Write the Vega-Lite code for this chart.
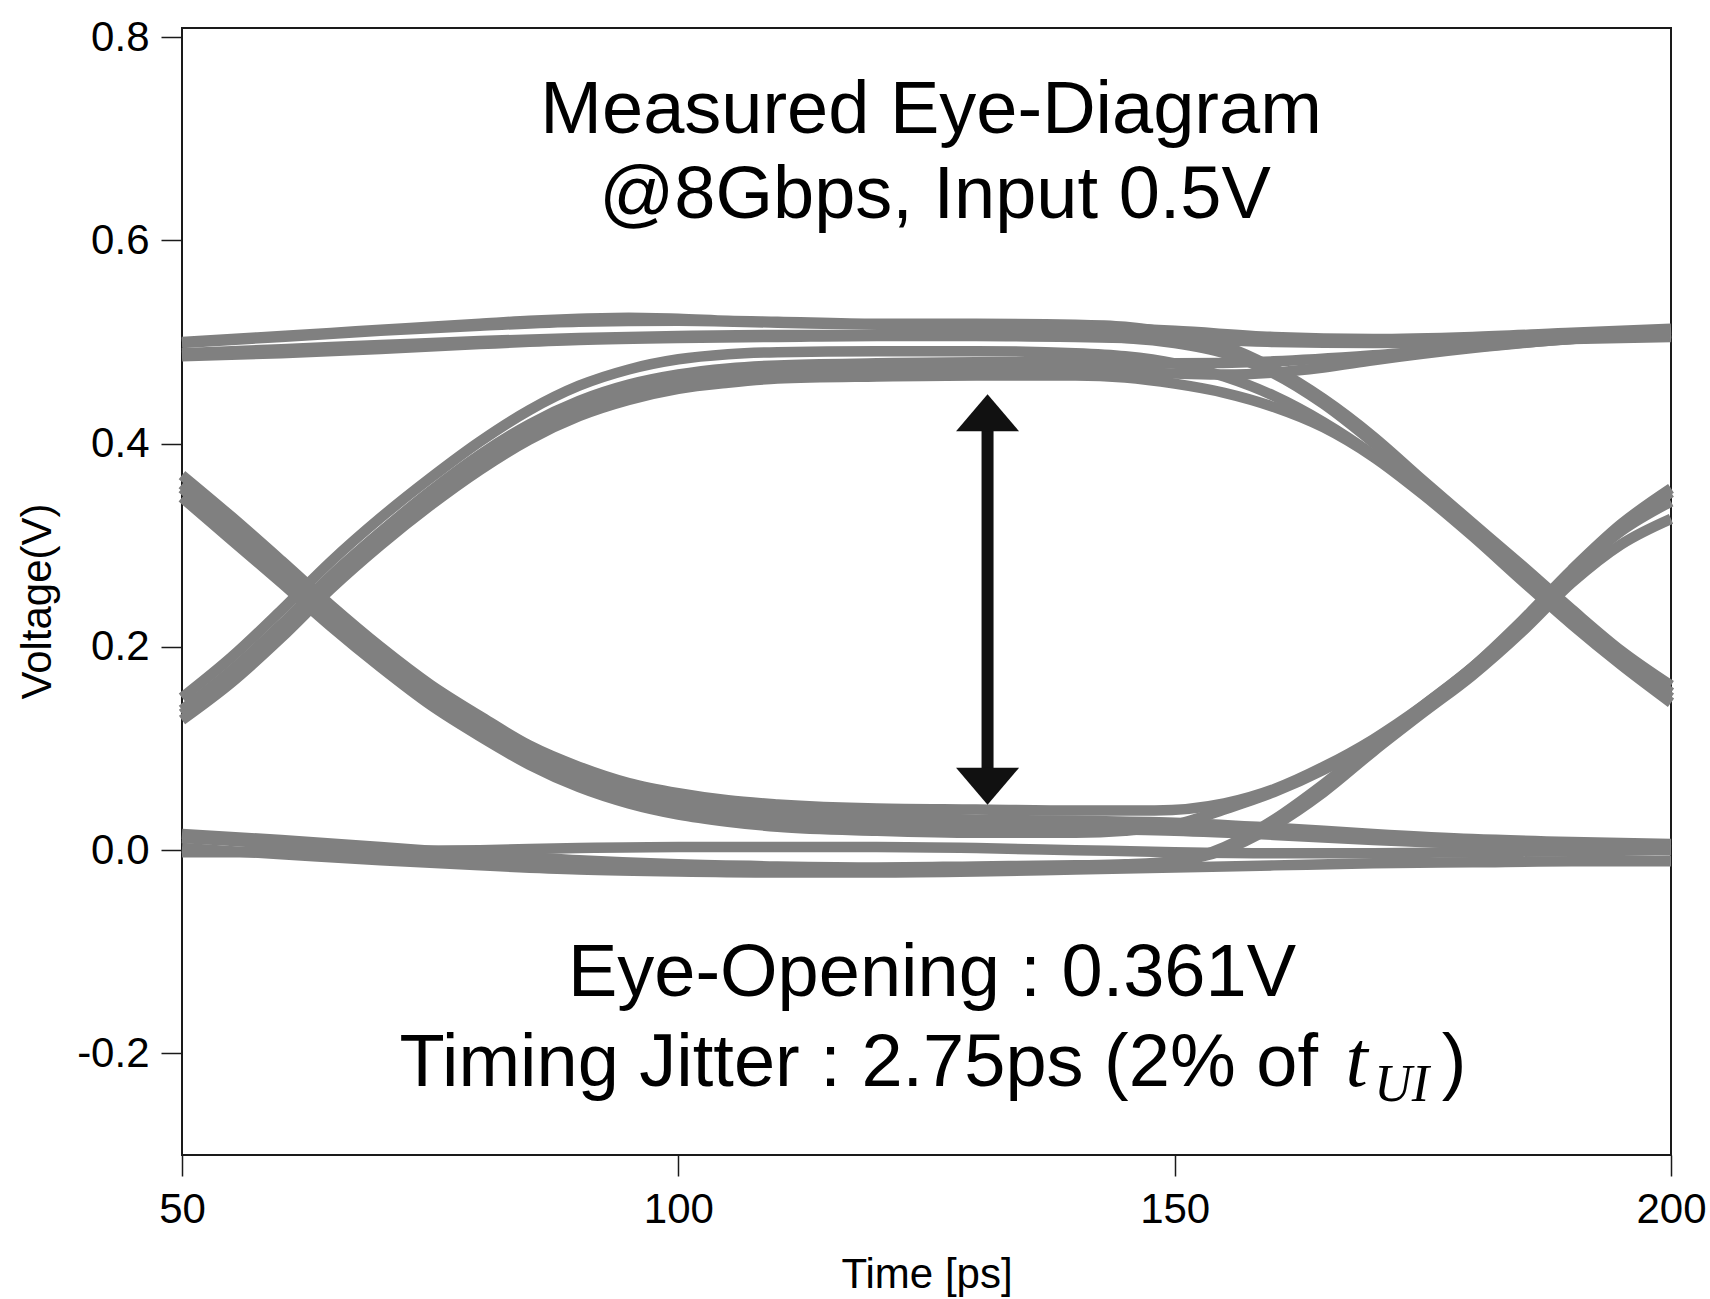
{
  "$schema": "https://vega.github.io/schema/vega-lite/v6.json",
  "width": 1489,
  "height": 1127,
  "autosize": {"type": "none"},
  "padding": {"left": 182, "top": 28, "right": 39, "bottom": 144},
  "background": "white",
  "config": {
    "view": {"stroke": "#1a1a1a", "strokeWidth": 2},
    "axis": {
      "grid": false, "domain": false,
      "labelFont": "Liberation Sans", "titleFont": "Liberation Sans",
      "labelColor": "#000", "titleColor": "#000",
      "tickColor": "#1a1a1a", "tickWidth": 1.5, "tickSize": 21,
      "labelFontSize": 42, "titleFontSize": 42, "titleFontWeight": "normal"
    }
  },
  "datasets": {
    "traces": [
      {"s":"H1","t":50,"v":0.500},{"s":"H1","t":55,"v":0.503},{"s":"H1","t":60,"v":0.506},{"s":"H1","t":65,"v":0.509},{"s":"H1","t":70,"v":0.512},{"s":"H1","t":75,"v":0.515},{"s":"H1","t":80,"v":0.518},{"s":"H1","t":85,"v":0.521},{"s":"H1","t":90,"v":0.523},{"s":"H1","t":95,"v":0.524},{"s":"H1","t":100,"v":0.523},{"s":"H1","t":105,"v":0.521},{"s":"H1","t":110,"v":0.520},{"s":"H1","t":120,"v":0.518},{"s":"H1","t":130,"v":0.518},{"s":"H1","t":140,"v":0.517},{"s":"H1","t":145,"v":0.515},{"s":"H1","t":150,"v":0.508},{"s":"H1","t":155,"v":0.496},{"s":"H1","t":160,"v":0.474},{"s":"H1","t":165,"v":0.444},{"s":"H1","t":170,"v":0.407},{"s":"H1","t":175,"v":0.364},{"s":"H1","t":180,"v":0.322},{"s":"H1","t":185,"v":0.280},{"s":"H1","t":190,"v":0.237},{"s":"H1","t":195,"v":0.196},{"s":"H1","t":200,"v":0.162},
      {"s":"H2","t":50,"v":0.489},{"s":"H2","t":60,"v":0.493},{"s":"H2","t":70,"v":0.497},{"s":"H2","t":80,"v":0.501},{"s":"H2","t":90,"v":0.504},{"s":"H2","t":100,"v":0.506},{"s":"H2","t":110,"v":0.507},{"s":"H2","t":120,"v":0.507},{"s":"H2","t":130,"v":0.507},{"s":"H2","t":140,"v":0.506},{"s":"H2","t":145,"v":0.504},{"s":"H2","t":150,"v":0.499},{"s":"H2","t":155,"v":0.489},{"s":"H2","t":160,"v":0.469},{"s":"H2","t":165,"v":0.439},{"s":"H2","t":170,"v":0.401},{"s":"H2","t":175,"v":0.359},{"s":"H2","t":180,"v":0.317},{"s":"H2","t":185,"v":0.275},{"s":"H2","t":190,"v":0.232},{"s":"H2","t":195,"v":0.192},{"s":"H2","t":200,"v":0.155},
      {"s":"H3","t":50,"v":0.486},{"s":"H3","t":60,"v":0.489},{"s":"H3","t":70,"v":0.493},{"s":"H3","t":80,"v":0.498},{"s":"H3","t":90,"v":0.502},{"s":"H3","t":100,"v":0.504},{"s":"H3","t":110,"v":0.505},{"s":"H3","t":120,"v":0.506},{"s":"H3","t":130,"v":0.506},{"s":"H3","t":140,"v":0.505},{"s":"H3","t":150,"v":0.503},{"s":"H3","t":160,"v":0.500},{"s":"H3","t":170,"v":0.499},{"s":"H3","t":180,"v":0.500},{"s":"H3","t":190,"v":0.503},{"s":"H3","t":200,"v":0.505},
      {"s":"H4","t":50,"v":0.499},{"s":"H4","t":60,"v":0.505},{"s":"H4","t":70,"v":0.511},{"s":"H4","t":80,"v":0.516},{"s":"H4","t":90,"v":0.520},{"s":"H4","t":100,"v":0.521},{"s":"H4","t":110,"v":0.519},{"s":"H4","t":120,"v":0.517},{"s":"H4","t":130,"v":0.516},{"s":"H4","t":140,"v":0.515},{"s":"H4","t":150,"v":0.511},{"s":"H4","t":160,"v":0.505},{"s":"H4","t":170,"v":0.503},{"s":"H4","t":180,"v":0.505},{"s":"H4","t":190,"v":0.509},{"s":"H4","t":200,"v":0.513},
      {"s":"R1","t":50,"v":0.150},{"s":"R1","t":55,"v":0.190},{"s":"R1","t":60,"v":0.236},{"s":"R1","t":65,"v":0.284},{"s":"R1","t":70,"v":0.327},{"s":"R1","t":75,"v":0.366},{"s":"R1","t":80,"v":0.402},{"s":"R1","t":85,"v":0.433},{"s":"R1","t":90,"v":0.457},{"s":"R1","t":95,"v":0.473},{"s":"R1","t":100,"v":0.483},{"s":"R1","t":105,"v":0.488},{"s":"R1","t":110,"v":0.490},{"s":"R1","t":120,"v":0.491},{"s":"R1","t":130,"v":0.491},{"s":"R1","t":140,"v":0.489},{"s":"R1","t":145,"v":0.486},{"s":"R1","t":150,"v":0.479},{"s":"R1","t":155,"v":0.466},{"s":"R1","t":160,"v":0.447},{"s":"R1","t":165,"v":0.421},{"s":"R1","t":170,"v":0.389},{"s":"R1","t":175,"v":0.352},{"s":"R1","t":180,"v":0.311},{"s":"R1","t":185,"v":0.268},{"s":"R1","t":190,"v":0.226},{"s":"R1","t":195,"v":0.186},{"s":"R1","t":200,"v":0.150},
      {"s":"R2","t":50,"v":0.138},{"s":"R2","t":55,"v":0.177},{"s":"R2","t":60,"v":0.222},{"s":"R2","t":65,"v":0.270},{"s":"R2","t":70,"v":0.313},{"s":"R2","t":75,"v":0.353},{"s":"R2","t":80,"v":0.389},{"s":"R2","t":85,"v":0.419},{"s":"R2","t":90,"v":0.442},{"s":"R2","t":95,"v":0.458},{"s":"R2","t":100,"v":0.468},{"s":"R2","t":105,"v":0.474},{"s":"R2","t":110,"v":0.477},{"s":"R2","t":120,"v":0.479},{"s":"R2","t":130,"v":0.480},{"s":"R2","t":140,"v":0.480},{"s":"R2","t":150,"v":0.479},{"s":"R2","t":160,"v":0.481},{"s":"R2","t":170,"v":0.487},{"s":"R2","t":180,"v":0.495},{"s":"R2","t":190,"v":0.503},{"s":"R2","t":200,"v":0.509},
      {"s":"R3","t":50,"v":0.128},{"s":"R3","t":55,"v":0.165},{"s":"R3","t":60,"v":0.209},{"s":"R3","t":65,"v":0.257},{"s":"R3","t":70,"v":0.300},{"s":"R3","t":75,"v":0.339},{"s":"R3","t":80,"v":0.374},{"s":"R3","t":85,"v":0.404},{"s":"R3","t":90,"v":0.427},{"s":"R3","t":95,"v":0.443},{"s":"R3","t":100,"v":0.454},{"s":"R3","t":105,"v":0.460},{"s":"R3","t":110,"v":0.464},{"s":"R3","t":120,"v":0.466},{"s":"R3","t":130,"v":0.467},{"s":"R3","t":140,"v":0.467},{"s":"R3","t":145,"v":0.465},{"s":"R3","t":150,"v":0.459},{"s":"R3","t":155,"v":0.450},{"s":"R3","t":160,"v":0.436},{"s":"R3","t":165,"v":0.416},{"s":"R3","t":170,"v":0.387},{"s":"R3","t":175,"v":0.350},{"s":"R3","t":180,"v":0.309},{"s":"R3","t":185,"v":0.265},{"s":"R3","t":190,"v":0.222},{"s":"R3","t":195,"v":0.182},{"s":"R3","t":200,"v":0.145},
      {"s":"R4","t":50,"v":0.134},{"s":"R4","t":55,"v":0.172},{"s":"R4","t":60,"v":0.217},{"s":"R4","t":65,"v":0.265},{"s":"R4","t":70,"v":0.308},{"s":"R4","t":75,"v":0.347},{"s":"R4","t":80,"v":0.382},{"s":"R4","t":85,"v":0.412},{"s":"R4","t":90,"v":0.435},{"s":"R4","t":95,"v":0.451},{"s":"R4","t":100,"v":0.461},{"s":"R4","t":105,"v":0.466},{"s":"R4","t":110,"v":0.469},{"s":"R4","t":120,"v":0.471},{"s":"R4","t":130,"v":0.472},{"s":"R4","t":140,"v":0.471},{"s":"R4","t":150,"v":0.469},{"s":"R4","t":155,"v":0.468},{"s":"R4","t":160,"v":0.470},{"s":"R4","t":165,"v":0.475},{"s":"R4","t":170,"v":0.482},{"s":"R4","t":180,"v":0.494},{"s":"R4","t":190,"v":0.503},{"s":"R4","t":200,"v":0.508},
      {"s":"F1","t":50,"v":0.347},{"s":"F1","t":55,"v":0.305},{"s":"F1","t":60,"v":0.263},{"s":"F1","t":65,"v":0.220},{"s":"F1","t":70,"v":0.180},{"s":"F1","t":75,"v":0.143},{"s":"F1","t":80,"v":0.112},{"s":"F1","t":85,"v":0.084},{"s":"F1","t":90,"v":0.062},{"s":"F1","t":95,"v":0.046},{"s":"F1","t":100,"v":0.035},{"s":"F1","t":105,"v":0.028},{"s":"F1","t":110,"v":0.023},{"s":"F1","t":120,"v":0.019},{"s":"F1","t":130,"v":0.017},{"s":"F1","t":140,"v":0.017},{"s":"F1","t":145,"v":0.019},{"s":"F1","t":150,"v":0.025},{"s":"F1","t":155,"v":0.040},{"s":"F1","t":160,"v":0.057},{"s":"F1","t":165,"v":0.079},{"s":"F1","t":170,"v":0.106},{"s":"F1","t":175,"v":0.138},{"s":"F1","t":180,"v":0.175},{"s":"F1","t":185,"v":0.222},{"s":"F1","t":190,"v":0.272},{"s":"F1","t":195,"v":0.317},{"s":"F1","t":200,"v":0.352},
      {"s":"F2","t":50,"v":0.360},{"s":"F2","t":55,"v":0.318},{"s":"F2","t":60,"v":0.275},{"s":"F2","t":65,"v":0.231},{"s":"F2","t":70,"v":0.190},{"s":"F2","t":75,"v":0.153},{"s":"F2","t":80,"v":0.123},{"s":"F2","t":85,"v":0.094},{"s":"F2","t":90,"v":0.073},{"s":"F2","t":95,"v":0.058},{"s":"F2","t":100,"v":0.048},{"s":"F2","t":105,"v":0.041},{"s":"F2","t":110,"v":0.036},{"s":"F2","t":120,"v":0.032},{"s":"F2","t":130,"v":0.030},{"s":"F2","t":140,"v":0.029},{"s":"F2","t":150,"v":0.027},{"s":"F2","t":160,"v":0.022},{"s":"F2","t":170,"v":0.016},{"s":"F2","t":180,"v":0.011},{"s":"F2","t":190,"v":0.008},{"s":"F2","t":200,"v":0.006},
      {"s":"F3","t":50,"v":0.369},{"s":"F3","t":55,"v":0.328},{"s":"F3","t":60,"v":0.285},{"s":"F3","t":65,"v":0.241},{"s":"F3","t":70,"v":0.200},{"s":"F3","t":75,"v":0.163},{"s":"F3","t":80,"v":0.132},{"s":"F3","t":85,"v":0.103},{"s":"F3","t":90,"v":0.082},{"s":"F3","t":95,"v":0.066},{"s":"F3","t":100,"v":0.056},{"s":"F3","t":105,"v":0.049},{"s":"F3","t":110,"v":0.045},{"s":"F3","t":120,"v":0.041},{"s":"F3","t":130,"v":0.040},{"s":"F3","t":140,"v":0.039},{"s":"F3","t":148,"v":0.039},{"s":"F3","t":155,"v":0.046},{"s":"F3","t":160,"v":0.060},{"s":"F3","t":165,"v":0.082},{"s":"F3","t":170,"v":0.109},{"s":"F3","t":175,"v":0.142},{"s":"F3","t":180,"v":0.180},{"s":"F3","t":185,"v":0.226},{"s":"F3","t":190,"v":0.276},{"s":"F3","t":195,"v":0.321},{"s":"F3","t":200,"v":0.356},
      {"s":"F4","t":50,"v":0.356},{"s":"F4","t":55,"v":0.313},{"s":"F4","t":60,"v":0.270},{"s":"F4","t":65,"v":0.226},{"s":"F4","t":70,"v":0.185},{"s":"F4","t":75,"v":0.148},{"s":"F4","t":80,"v":0.117},{"s":"F4","t":85,"v":0.088},{"s":"F4","t":90,"v":0.067},{"s":"F4","t":95,"v":0.052},{"s":"F4","t":100,"v":0.041},{"s":"F4","t":105,"v":0.033},{"s":"F4","t":110,"v":0.028},{"s":"F4","t":120,"v":0.024},{"s":"F4","t":130,"v":0.022},{"s":"F4","t":140,"v":0.021},{"s":"F4","t":150,"v":0.019},{"s":"F4","t":160,"v":0.015},{"s":"F4","t":170,"v":0.010},{"s":"F4","t":180,"v":0.006},{"s":"F4","t":190,"v":0.002},{"s":"F4","t":200,"v":0.000},
      {"s":"L1","t":50,"v":0.016},{"s":"L1","t":60,"v":0.010},{"s":"L1","t":70,"v":0.003},{"s":"L1","t":80,"v":-0.004},{"s":"L1","t":90,"v":-0.010},{"s":"L1","t":100,"v":-0.014},{"s":"L1","t":110,"v":-0.016},{"s":"L1","t":120,"v":-0.017},{"s":"L1","t":130,"v":-0.016},{"s":"L1","t":140,"v":-0.015},{"s":"L1","t":145,"v":-0.014},{"s":"L1","t":150,"v":-0.011},{"s":"L1","t":155,"v":0.000},{"s":"L1","t":160,"v":0.024},{"s":"L1","t":165,"v":0.057},{"s":"L1","t":170,"v":0.097},{"s":"L1","t":175,"v":0.135},{"s":"L1","t":180,"v":0.172},{"s":"L1","t":185,"v":0.215},{"s":"L1","t":190,"v":0.263},{"s":"L1","t":195,"v":0.301},{"s":"L1","t":200,"v":0.326},
      {"s":"L2","t":50,"v":0.002},{"s":"L2","t":60,"v":-0.004},{"s":"L2","t":70,"v":-0.010},{"s":"L2","t":80,"v":-0.015},{"s":"L2","t":90,"v":-0.019},{"s":"L2","t":100,"v":-0.021},{"s":"L2","t":110,"v":-0.022},{"s":"L2","t":120,"v":-0.022},{"s":"L2","t":130,"v":-0.021},{"s":"L2","t":140,"v":-0.019},{"s":"L2","t":150,"v":-0.017},{"s":"L2","t":160,"v":-0.015},{"s":"L2","t":170,"v":-0.013},{"s":"L2","t":180,"v":-0.012},{"s":"L2","t":190,"v":-0.011},{"s":"L2","t":200,"v":-0.011},
      {"s":"L3","t":50,"v":-0.002},{"s":"L3","t":60,"v":-0.002},{"s":"L3","t":70,"v":-0.001},{"s":"L3","t":80,"v":0.000},{"s":"L3","t":90,"v":0.002},{"s":"L3","t":100,"v":0.003},{"s":"L3","t":110,"v":0.003},{"s":"L3","t":120,"v":0.003},{"s":"L3","t":130,"v":0.002},{"s":"L3","t":140,"v":0.000},{"s":"L3","t":150,"v":-0.002},{"s":"L3","t":160,"v":-0.003},{"s":"L3","t":170,"v":-0.003},{"s":"L3","t":180,"v":-0.002},{"s":"L3","t":190,"v":-0.001},{"s":"L3","t":200,"v":0.000},
      {"s":"L4","t":50,"v":0.012},{"s":"L4","t":60,"v":0.006},{"s":"L4","t":70,"v":-0.002},{"s":"L4","t":80,"v":-0.009},{"s":"L4","t":90,"v":-0.015},{"s":"L4","t":100,"v":-0.019},{"s":"L4","t":110,"v":-0.021},{"s":"L4","t":120,"v":-0.021},{"s":"L4","t":130,"v":-0.020},{"s":"L4","t":140,"v":-0.018},{"s":"L4","t":145,"v":-0.016},{"s":"L4","t":150,"v":-0.012},{"s":"L4","t":155,"v":0.003},{"s":"L4","t":160,"v":0.030},{"s":"L4","t":165,"v":0.065},{"s":"L4","t":170,"v":0.104},{"s":"L4","t":175,"v":0.142},{"s":"L4","t":180,"v":0.180},{"s":"L4","t":185,"v":0.224},{"s":"L4","t":190,"v":0.272},{"s":"L4","t":195,"v":0.314},{"s":"L4","t":200,"v":0.343}
    ]
  },
  "encoding": {
    "x": {
      "field": "t", "type": "quantitative",
      "scale": {"domain": [50, 200], "nice": false, "zero": false},
      "axis": {
        "values": [50, 100, 150, 200], "labelPadding": 13, "title": "Time [ps]",
        "titleY": 132, "titleBaseline": "alphabetic", "labelFlush": false
      }
    },
    "y": {
      "field": "v", "type": "quantitative",
      "scale": {"domain": [-0.3, 0.809], "nice": false, "zero": false},
      "axis": {
        "values": [-0.2, 0, 0.2, 0.4, 0.6, 0.8], "labelPadding": 12,
        "labelExpr": "datum.value < 0 ? '-' + format(-datum.value, '.1f') : format(datum.value, '.1f')",
        "title": "Voltage(V)", "titleX": -132, "titleY": 573, "titleAngle": -90,
        "titleAlign": "center", "titleBaseline": "alphabetic", "labelFlush": false
      }
    }
  },
  "layer": [
    {
      "data": {"name": "traces"},
      "mark": {"type": "line", "color": "#808080", "strokeWidth": 10.5, "interpolate": "monotone", "strokeCap": "butt", "strokeJoin": "round"},
      "encoding": {"detail": {"field": "s", "type": "nominal"}}
    },
    {
      "data": {"values": [{"t": 131.15, "v": 0.42, "v2": 0.072}]},
      "mark": {"type": "rule", "color": "#111111", "strokeWidth": 12},
      "encoding": {"y2": {"field": "v2"}}
    },
    {
      "data": {"values": [{"t": 131.15, "v": 0.4304}]},
      "mark": {"type": "point", "filled": true, "color": "#111111", "opacity": 1, "size": 3969, "strokeWidth": 0, "shape": "M0,-0.587L1,0.587L-1,0.587Z"}
    },
    {
      "data": {"values": [{"t": 131.15, "v": 0.0628}]},
      "mark": {"type": "point", "filled": true, "color": "#111111", "opacity": 1, "size": 3969, "strokeWidth": 0, "shape": "M0,0.587L1,-0.587L-1,-0.587Z"}
    },
    {
      "data": {"values": [
        {"label": "Measured Eye-Diagram", "t": 125.46, "v": 0.7055},
        {"label": "@8Gbps, Input 0.5V", "t": 125.86, "v": 0.6219},
        {"label": "Eye-Opening : 0.361V", "t": 125.55, "v": -0.1439}
      ]},
      "mark": {"type": "text", "font": "Liberation Sans", "fontSize": 74, "align": "center", "baseline": "alphabetic", "color": "#000"},
      "encoding": {"text": {"field": "label"}}
    },
    {
      "data": {"values": [
        {"label": "Timing Jitter : 2.75ps (2% of", "t": 71.91, "v": -0.2325},
        {"label": ")", "t": 176.9, "v": -0.2325}
      ]},
      "mark": {"type": "text", "font": "Liberation Sans", "fontSize": 74, "align": "left", "baseline": "alphabetic", "color": "#000"},
      "encoding": {"text": {"field": "label"}}
    },
    {
      "data": {"values": [{"label": "t", "t": 167.2, "v": -0.2325}]},
      "mark": {"type": "text", "font": "Liberation Serif", "fontStyle": "italic", "fontSize": 80, "align": "left", "baseline": "alphabetic", "color": "#000"},
      "encoding": {"text": {"field": "label"}}
    },
    {
      "data": {"values": [{"label": "UI", "t": 170.1, "v": -0.2472}]},
      "mark": {"type": "text", "font": "Liberation Serif", "fontStyle": "italic", "fontSize": 52, "align": "left", "baseline": "alphabetic", "color": "#000"},
      "encoding": {"text": {"field": "label"}}
    }
  ]
}
